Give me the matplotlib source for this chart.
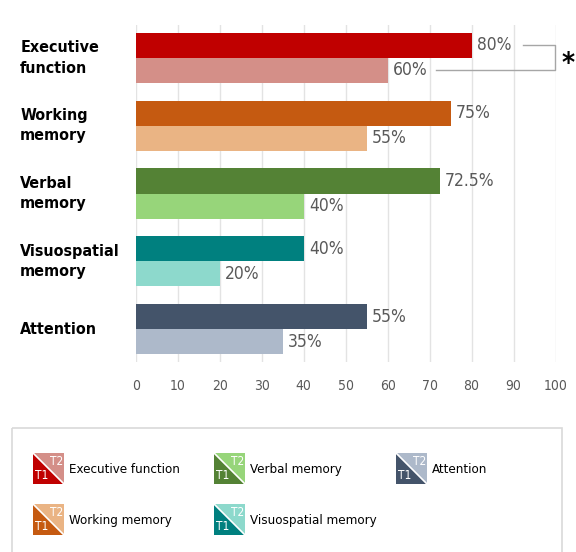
import numpy as np
import matplotlib
matplotlib.use("Agg")
import matplotlib.pyplot as plt
from matplotlib.patches import Polygon, Rectangle

# 数据
categories = ["Executive\nfunction", "Working\nmemory", "Verbal\nmemory",
              "Visuospatial\nmemory", "Attention"]
legend_names = ["Executive function", "Working memory", "Verbal memory",
                "Visuospatial memory", "Attention"]
t1_values = [80, 75, 72.5, 40, 55]
t2_values = [60, 55, 40, 20, 35]
t1_labels = ["80%", "75%", "72.5%", "40%", "55%"]
t2_labels = ["60%", "55%", "40%", "20%", "35%"]
t1_colors = ["#C00000", "#C55A11", "#548235", "#00807F", "#44546A"]
t2_colors = ["#D48F88", "#EAB484", "#97D57A", "#8DD9CC", "#ADB9CA"]

plt.rcParams["font.family"] = ["DejaVu Sans"]
plt.rcParams["font.stretch"] = "condensed"

fig = plt.figure(figsize=(5.76, 5.52), dpi=100)
ax = fig.add_axes([136 / 576, 1 - 362 / 552, 419.5 / 576, 337 / 552])

y = np.arange(len(categories))
h = 0.37
ax.barh(y - h / 2, t1_values, height=h, color=t1_colors, zorder=3)
ax.barh(y + h / 2, t2_values, height=h, color=t2_colors, zorder=3)

for i in range(len(categories)):
    ax.text(t1_values[i] + 1.2, y[i] - h / 2, t1_labels[i], va="center", ha="left",
            fontsize=12.5, color="#595959")
    ax.text(t2_values[i] + 1.2, y[i] + h / 2, t2_labels[i], va="center", ha="left",
            fontsize=12.5, color="#595959")
    ax.text(-0.276, y[i], categories[i], transform=ax.get_yaxis_transform(),
            ha="left", va="center", fontsize=11.5, color="black",
            fontweight="bold", linespacing=1.45)

ax.set_xlim(0, 100)
ax.set_ylim(len(categories) - 0.515, -0.485)
ax.set_xticks(np.arange(0, 101, 10))
ax.set_yticks([])
ax.tick_params(axis="x", length=0, pad=12, labelsize=10, labelcolor="#595959")
ax.grid(axis="x", color="#E3E3E3", lw=1, zorder=0)
for s in ax.spines.values():
    s.set_visible(False)

# 显著性括号
ax.plot([92.3, 99.9, 99.9, 71.5], [-h / 2, -h / 2, h / 2, h / 2],
        color="#A6A6A6", lw=1, clip_on=False, zorder=4)
ax.text(103, 0.09, "*", ha="center", va="center", fontsize=20,
        fontweight="bold", clip_on=False)

# 图例（像素坐标）
lax = fig.add_axes([0, 0, 1, 1], zorder=5)
lax.set_xlim(0, 576)
lax.set_ylim(552, 0)
lax.axis("off")
lax.patch.set_alpha(0)
lax.add_patch(Rectangle((12, 428), 550, 140, fill=False, ec="#D9D9D9", lw=1.2))

positions = [(33, 453), (33, 504), (214, 453), (214, 504), (396, 453)]
s = 31
for i in range(len(legend_names)):
    x0, y0 = positions[i]
    lax.add_patch(Polygon([(x0, y0), (x0, y0 + s), (x0 + s, y0 + s)],
                          closed=True, fc=t1_colors[i], ec="none"))
    lax.add_patch(Polygon([(x0, y0), (x0 + s, y0), (x0 + s, y0 + s)],
                          closed=True, fc=t2_colors[i], ec="none"))
    lax.plot([x0, x0 + s], [y0, y0 + s], color="white", lw=1.2)
    lax.text(x0 + 2, y0 + s - 2, "T1", color="white", fontsize=8.5,
             ha="left", va="bottom")
    lax.text(x0 + s - 1, y0 + 2, "T2", color="white", fontsize=8.5,
             ha="right", va="top")
    lax.text(x0 + s + 5, y0 + s / 2 + 1, legend_names[i], fontsize=9.5,
             color="black", ha="left", va="center")

fig.savefig("out.png", dpi=100)
